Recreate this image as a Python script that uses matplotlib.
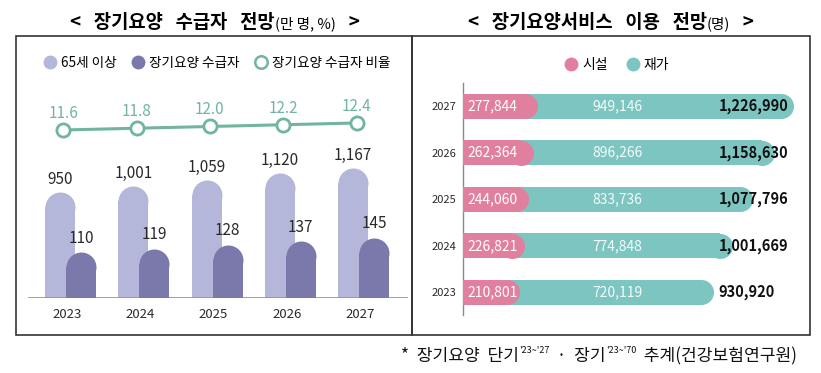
import matplotlib
matplotlib.use('Agg')
import matplotlib.pyplot as plt
from matplotlib.lines import Line2D
from matplotlib.patches import Rectangle

plt.rcParams['font.family'] = ['Noto Sans CJK KR', 'DejaVu Sans']

# left chart data (만 명, %)
years = ['2023', '2024', '2025', '2026', '2027']
elderly = [950, 1001, 1059, 1120, 1167]
recipients = [110, 119, 128, 137, 145]
ratio = [11.6, 11.8, 12.0, 12.2, 12.4]

# right chart data (명)
facility = [210801, 226821, 244060, 262364, 277844]
home = [720119, 774848, 833736, 896266, 949146]
total = [930920, 1001669, 1077796, 1158630, 1226990]

LIGHT = '#b5b7da'
DARK = '#7b79ac'
GREEN = '#70b59c'
PINK = '#e0809e'
TEAL = '#7dc5c1'
TXT = '#2a2a2a'

W, H = 821, 373
fig = plt.figure(figsize=(W / 100, H / 100), dpi=100)


def box(x0, y0, x1, y1):
    # pixel coords, origin top-left
    return [x0 / W, 1 - y1 / H, (x1 - x0) / W, (y1 - y0) / H]


# frames
fig.patches.append(Rectangle((16 / W, 1 - 335 / H), 396 / W, 299 / H, transform=fig.transFigure,
                             fill=False, ec='#333333', lw=1.2))
fig.patches.append(Rectangle((412 / W, 1 - 335 / H), 398 / W, 299 / H, transform=fig.transFigure,
                             fill=False, ec='#333333', lw=1.2))


def rich_text(parts, cx, y, color='black'):
    # parts: (text, size, weight, dy_px); centred on cx, baseline at y (px from top)
    r = fig.canvas.get_renderer()
    objs = []
    x = 0
    for s, size, weight, dy in parts:
        t = fig.text(x / W, (H - y + dy) / H, s, fontsize=size, fontweight=weight,
                     color=color, va='baseline', ha='left')
        w = t.get_window_extent(r).width
        objs.append((t, x, dy))
        x += w
    shift = cx - x / 2
    for t, x0, dy in objs:
        t.set_position(((x0 + shift) / W, (H - y + dy) / H))


rich_text([('<   장기요양   수급자   전망', 13.5, 'bold', 0), ('(만 명, %)', 10.5, 'normal', 0),
           ('   >', 13.5, 'bold', 0)], 215, 28)
rich_text([('<   장기요양서비스   이용   전망', 13.5, 'bold', 0), ('(명)', 10.5, 'normal', 0),
           ('   >', 13.5, 'bold', 0)], 611, 28)

rich_text([('*  장기요양  단기', 12.3, 'normal', 0), ("'23~'27", 6.5, 'normal', 8),
           ('  ·  장기', 12.3, 'normal', 0), ("'23~'70", 6.5, 'normal', 8),
           ('  추계(건강보험연구원)', 12.3, 'normal', 0)], 599, 361, color='#111111')

# ---------- left chart ----------
ax = fig.add_axes(box(28, 90, 408, 298))
ax_h = 208
ax.set_xlim(-0.532, -0.532 + 380 / 73.3)
ax.set_ylim(0, 1864)
ax2 = ax.twinx()
ax2.set_ylim(0, 501)
ax3 = ax.twinx()
ax3.set_ylim(-7.6, 16.17)
for a in (ax, ax2, ax3):
    a.set_yticks([])
    for sp in a.spines.values():
        sp.set_visible(False)
    a.patch.set_visible(False)

xs = list(range(len(years)))
bw_px = 30
bw = bw_px / 73.3
ms = bw_px * 0.72


def round_vbars(a, xpos, vals, color, ymax, z):
    r = (bw_px / 2) * ymax / ax_h
    a.bar(xpos, [v - r for v in vals], width=bw, color=color, zorder=z, lw=0)
    a.plot(xpos, [v - r for v in vals], 'o', ms=ms, color=color, mew=0, zorder=z)


lx = [x - 0.095 for x in xs]
dx = [x + 0.19 for x in xs]
round_vbars(ax, lx, elderly, LIGHT, 1864, 2)
round_vbars(ax2, dx, recipients, DARK, 501, 3)
for x, v in zip(lx, elderly):
    ax.annotate(f'{v:,}', (x, v), xytext=(0, 9), textcoords='offset points',
                ha='center', va='center', fontsize=11, color=TXT)
for x, v in zip(dx, recipients):
    ax2.annotate(f'{v:,}', (x, v), xytext=(0, 10), textcoords='offset points',
                 ha='center', va='center', fontsize=11, color=TXT)

rx = [x - 0.05 for x in xs]
ax3.plot(rx, ratio, '-o', color=GREEN, lw=2.2, ms=9.5, mfc='white', mec=GREEN, mew=2, zorder=5)
for x, v in zip(rx, ratio):
    ax3.annotate(f'{v:.1f}', (x, v), xytext=(0, 12), textcoords='offset points',
                 ha='center', va='center', fontsize=11, color=GREEN)

ax.axhline(0, color='#9a9a9a', lw=1.3, zorder=4)
ax.set_xticks(xs, years)
ax.tick_params(axis='x', length=0, pad=7, labelsize=9.5, labelcolor=TXT)

handles = [Line2D([], [], ls='', marker='o', ms=10, color=LIGHT, mew=0),
           Line2D([], [], ls='', marker='o', ms=10, color=DARK, mew=0),
           Line2D([], [], ls='', marker='o', ms=9, mfc='white', mec=GREEN, mew=1.8)]
fig.legend(handles, ['65세 이상', '장기요양 수급자', '장기요양 수급자 비율'], ncol=3,
           loc='center', bbox_to_anchor=(216 / W, 1 - 63 / H), frameon=False, fontsize=9.8,
           handletextpad=0.2, columnspacing=1.0, handlelength=1.2)

# ---------- right chart ----------
bx = fig.add_axes(box(463, 83, 810, 315))
bx.set_xlim(0, 1.29e6)
bx.set_ylim(-0.483, -0.483 + 232 / 46.6)
for k, sp in bx.spines.items():
    sp.set_visible(k == 'left')
bx.spines['left'].set_color('#8a8a8a')
bx.spines['left'].set_linewidth(1)
bx.set_xticks([])
ys = list(range(len(years)))
bx.set_yticks(ys, years)
bx.tick_params(axis='y', length=0, pad=5, labelsize=8, labelcolor=TXT)

bh_px = 25
r_x = (bh_px / 2) * 1.29e6 / 347


def round_hbars(vals, color, z):
    bx.barh(ys, [v - r_x for v in vals], height=bh_px / 46.6, color=color, lw=0, zorder=z)
    bx.plot([v - r_x for v in vals], ys, 'o', ms=bh_px * 0.72, color=color, mew=0, zorder=z)


round_hbars(total, TEAL, 2)
round_hbars(facility, PINK, 3)
for y, f, h, t in zip(ys, facility, home, total):
    bx.annotate(f'{f:,}', (0, y), xytext=(3, 0), textcoords='offset points',
                ha='left', va='center', fontsize=10, color='white', zorder=5)
    bx.text(0.445, y, f'{h:,}', transform=bx.get_yaxis_transform(),
            ha='center', va='center', fontsize=10, color='#f4fbfa', zorder=5)
    bx.text(0.737, y, f'{t:,}', transform=bx.get_yaxis_transform(),
            ha='left', va='center', fontsize=10.5, fontweight='bold', color='#111111', zorder=5)

handles2 = [Line2D([], [], ls='', marker='o', ms=10, color=PINK, mew=0),
            Line2D([], [], ls='', marker='o', ms=10, color=TEAL, mew=0)]
fig.legend(handles2, ['시설', '재가'], ncol=2, loc='center', bbox_to_anchor=(616 / W, 1 - 65 / H),
           frameon=False, fontsize=10, handletextpad=0.2, columnspacing=1.2, handlelength=1.2)

fig.savefig('out.png', dpi=100)
